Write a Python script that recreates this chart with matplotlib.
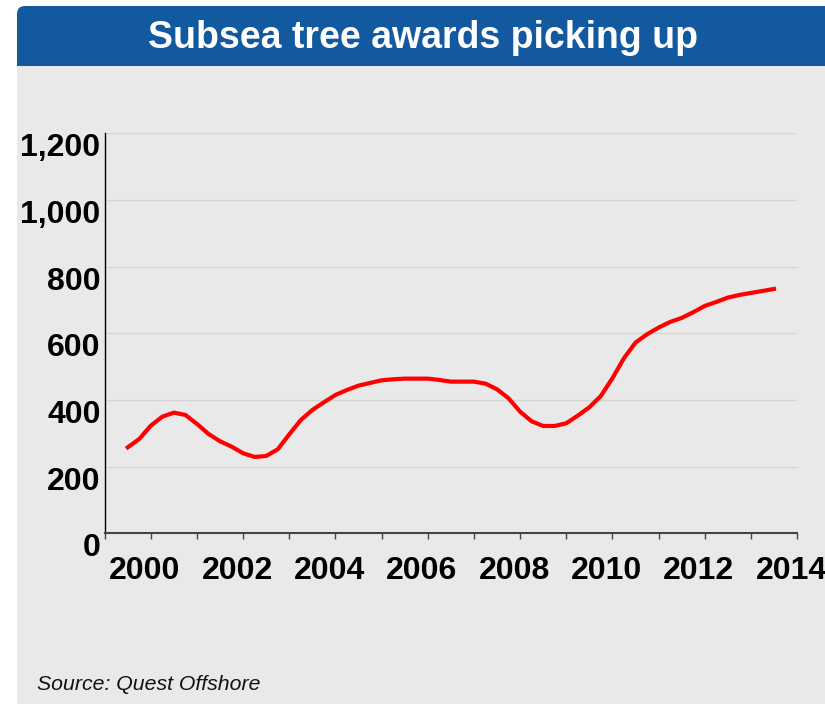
import numpy as np
import matplotlib
matplotlib.use("Agg")
import matplotlib.pyplot as plt
from matplotlib.patches import FancyBboxPatch, Rectangle
from matplotlib.transforms import ScaledTranslation

plt.rcParams['font.family'] = ['Liberation Sans', 'DejaVu Sans']

# Quarterly subsea tree awards (rolling)
quarters = np.arange(1999.5, 2013.51, 0.25)
awards = [258, 283, 323, 350, 362, 355, 328, 298, 276, 260,
          240, 229, 232, 252, 297, 340, 370, 393, 415, 430,
          443, 451, 459, 462, 464, 464, 464, 460, 455, 455,
          455, 449, 432, 405, 365, 336, 322, 322, 330, 353,
          378, 412, 465, 525, 572, 597, 617, 634, 646, 663,
          682, 694, 707, 715, 721, 727, 733]

year_ticks = list(range(1999, 2015))
year_labels = [str(y) if y % 2 == 0 else '' for y in year_ticks]
y_ticks = [0, 200, 400, 600, 800, 1000, 1200]
y_labels = ['0', '200', '400', '600', '800', '1,000', '1,200']

BLUE = '#1259A0'
PANEL = '#E9E9E9'

fig = plt.figure(figsize=(8.25, 7.04), dpi=100)
fig.patch.set_facecolor('white')

# background panel drawn in pixel coordinates
bg = fig.add_axes([0, 0, 1, 1], zorder=0)
bg.set_xlim(0, 825)
bg.set_ylim(704, 0)
bg.axis('off')
bg.add_patch(FancyBboxPatch((17, 6), 840, 80, boxstyle='round,pad=0,rounding_size=8',
                            facecolor=BLUE, edgecolor='none'))
bg.add_patch(Rectangle((17, 66), 840, 660, facecolor=PANEL, edgecolor='none'))
bg.text(423, 38, 'Subsea tree awards picking up', color='white', fontsize=27,
        fontweight='bold', ha='center', va='center')
bg.text(37, 684, 'Source: Quest Offshore', fontsize=15.3, style='italic',
        ha='left', va='center', color='#111111')

# chart area
ax = fig.add_axes([104.7 / 825, 1 - 533.3 / 704, (797 - 104.7) / 825, (533.3 - 133.3) / 704],
                  zorder=1)
ax.set_facecolor('none')
ax.plot(quarters, awards, color='#FF0000', lw=3, solid_joinstyle='round', zorder=3)

ax.set_xlim(1999, 2014)
ax.set_ylim(0, 1200)
ax.set_xticks(year_ticks)
ax.set_xticklabels(year_labels)
ax.set_yticks(y_ticks)
ax.set_yticklabels(y_labels)

ax.yaxis.grid(True, color='#D5D5D5', lw=1)
ax.set_axisbelow(True)

for s in ['top', 'right']:
    ax.spines[s].set_visible(False)
ax.spines['left'].set_color('black')
ax.spines['left'].set_linewidth(1)
ax.spines['bottom'].set_color('#444444')
ax.spines['bottom'].set_linewidth(1.5)

ax.tick_params(axis='x', direction='out', length=4, width=1, color='#444444',
               pad=12.5, labelsize=23)
ax.tick_params(axis='y', length=0, pad=3, labelsize=23)
for lab in ax.get_xticklabels() + ax.get_yticklabels():
    lab.set_fontweight('bold')
for lab in ax.get_yticklabels():
    lab.set_va('top')
shift = ScaledTranslation(-6 / 100, 0, fig.dpi_scale_trans)
for lab in ax.get_xticklabels():
    lab.set_transform(lab.get_transform() + shift)

fig.savefig('out.png', dpi=100)
